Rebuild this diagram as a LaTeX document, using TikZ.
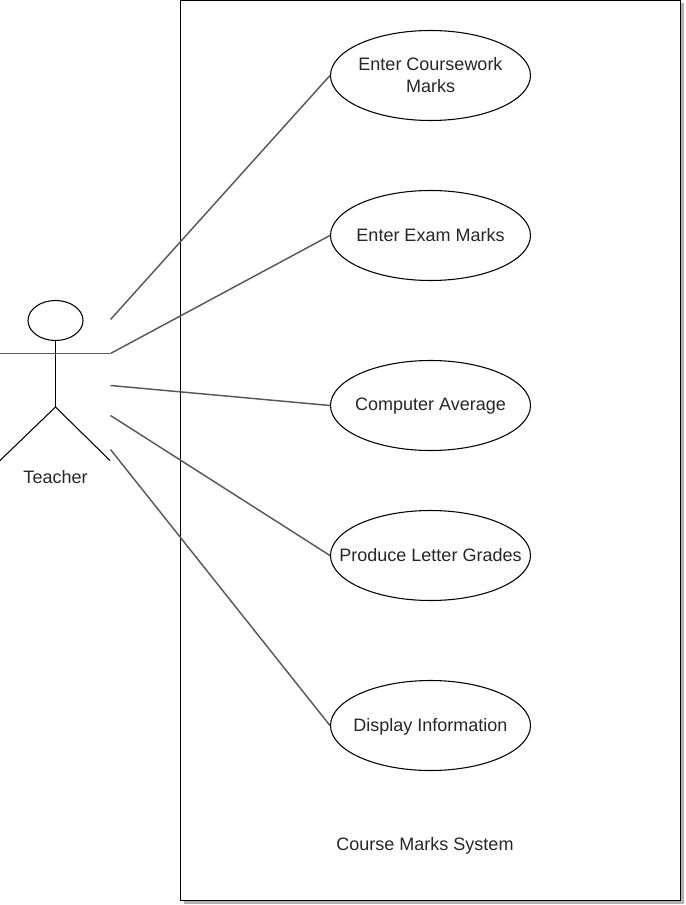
\documentclass[tikz,border=0pt]{standalone}
\usepackage{fontspec}
\setmainfont{Liberation Sans}
\usetikzlibrary{positioning, shapes.geometric}

\begin{document}
\begin{tikzpicture}[x=0.75pt,y=-0.75pt,line width=0.8pt,font=\fontsize{13.5}{16.5}\selectfont,text=black!85,
    usecase/.style={ellipse,draw,fill=white,minimum width=150pt,minimum height=67.5pt,inner sep=0pt},
    casetext/.style={align=center,inner sep=0pt},
    system/.style={rectangle,draw,fill=white,minimum width=375pt,minimum height=675pt,inner sep=0pt},
    shade/.style={rectangle,fill=black!30,minimum width=375pt,minimum height=675pt,inner sep=0pt},
    edge/.style={black!65,line width=1.1pt},
    limb/.style={black}]
    \useasboundingbox (0,0) rectangle (685,905);

    % system boundary
    \node (shadow) [shade] at (433.5,453.5) {};
    \node (system) [system] at (430.5,450.5) {};
    \node (title) at (425,846) {Course Marks System};

    % use cases
    \node (coursework) [usecase,label={[casetext]center:Enter Coursework\\Marks}] at (430.5,75.5) {};
    \node (exam) [usecase,label={[casetext]center:Enter Exam Marks}] at (430.5,235.5) {};
    \node (average) [usecase,label={[casetext,yshift=-0.75pt]center:Computer Average}] at (430.5,405.5) {};
    \node (grades) [usecase,label={[casetext]center:Produce Letter Grades}] at (430.5,555.5) {};
    \node (display) [usecase,label={[casetext,yshift=-0.75pt]center:Display Information}] at (430.5,725.5) {};

    % teacher
    \node (head) [ellipse,draw,minimum width=41.25pt,minimum height=30pt,inner sep=0pt] at (55.5,320.5) {};
    \node (teacher) at (55.5,477) {Teacher};
    \coordinate (hip) at (55.5,407);
    \coordinate (handl) at (0,353.5);
    \coordinate (handr) at (110,353.5);
    \coordinate (footl) at (0,460.5);
    \coordinate (footr) at (110,460.5);
    \draw[limb] (head.south) -- (hip);
    \draw[edge] (handl) -- (handr);
    \draw[limb] (hip) -- (footl);
    \draw[limb] (hip) -- (footr);

    % free ends of the connectors
    \coordinate (a) at (110.5,319.5);
    \coordinate (b) at (110.5,353.5);
    \coordinate (c) at (110.5,385.5);
    \coordinate (d) at (110.5,415.5);
    \coordinate (e) at (110.5,449.5);

    \draw[edge] (a) -- (coursework.west);
    \draw[edge] (b) -- (exam.west);
    \draw[edge] (c) -- (average.west);
    \draw[edge] (d) -- (grades.west);
    \draw[edge] (e) -- (display.west);
  \end{tikzpicture}
\end{document}
